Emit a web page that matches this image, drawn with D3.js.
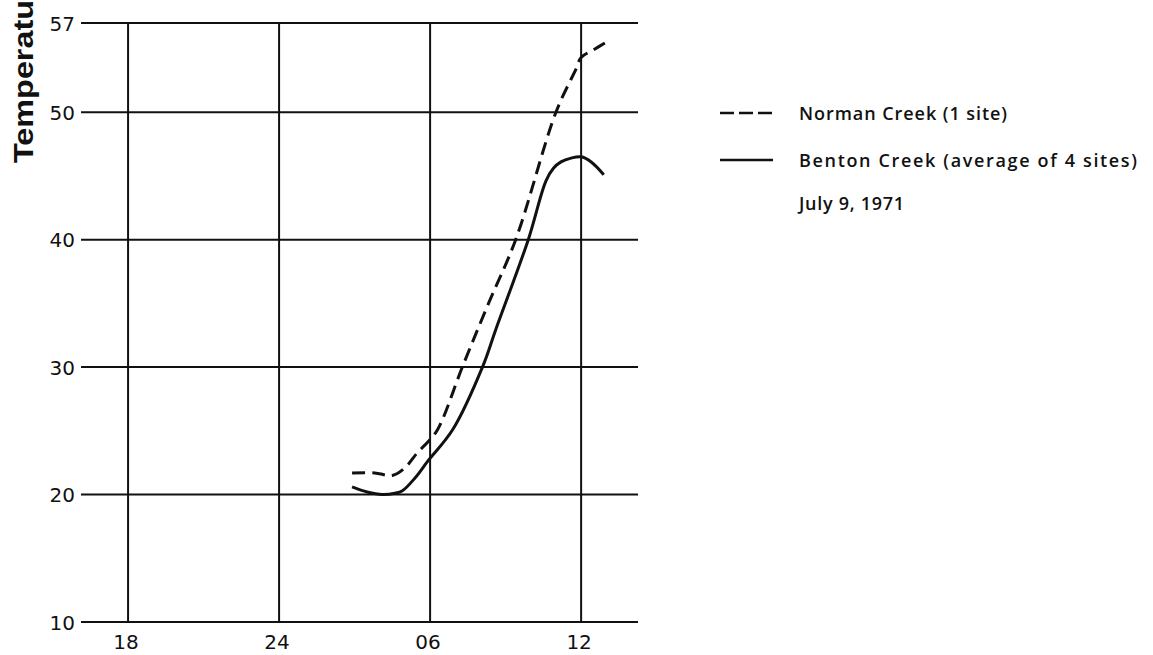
<!DOCTYPE html>
<html>
<head>
<meta charset="utf-8">
<script src="https://d3js.org/d3.v7.min.js"></script>
<style>
  body { margin: 0; background: #fff; }
  svg { display: block; }
  text { fill: #111; }
</style>
</head>
<body>
<div id="my_dataviz"></div>
<script>
// hours counted from 18:00 the evening before (24 = midnight, 30 = 06, 36 = noon)
var normanHours = [26.9, 27.8, 28.5, 29.0, 29.5, 29.9, 30.3, 31.3, 32.3, 33.4, 35.0, 35.8, 36.0, 36.5, 37.0]
var normanTemp  = [21.7, 21.7, 21.5, 22.1, 23.3, 24.1, 25.1, 30.1, 34.9, 40.0, 50.0, 53.4, 54.3, 54.9, 55.5]

var bentonHours = [26.9, 27.5, 28.1, 28.6, 28.9, 29.4, 29.9, 30.9, 32.1, 32.6, 33.9, 34.6, 34.9, 35.2, 35.6, 36.0, 36.4, 36.9]
var bentonTemp  = [20.6, 20.2, 20.0, 20.1, 20.3, 21.3, 22.6, 25.1, 30.1, 32.9, 40.0, 44.6, 45.6, 46.1, 46.4, 46.5, 46.1, 45.1]

var xTickValues = [18, 24, 30, 36]
var xTickLabels = ["18", "24", "06", "12"]
var yTickValues = [10, 20, 30, 40, 50, 57]

var legendLabels = ["Norman Creek (1 site)", "Benton Creek (average of 4 sites)"]
var dateLabel = "July 9, 1971"

var width = 1153
    height = 655

var svg = d3.select("#my_dataviz")
  .append("svg")
    .attr("width", width)
    .attr("height", height)

// scales: grid runs from x 81 to 638, y 23 to 622
var x = d3.scaleLinear()
  .domain([16.13, 38.26])
  .range([81, 638])

var y = d3.scaleLinear()
  .domain([10, 57])
  .range([622, 23])

// horizontal grid lines
svg.selectAll("hgrid")
  .data(yTickValues)
  .enter()
  .append("line")
    .attr("x1", x.range()[0])
    .attr("x2", x.range()[1])
    .attr("y1", function(d) { return y(d) })
    .attr("y2", function(d) { return y(d) })
    .attr("stroke", "#111")
    .attr("stroke-width", 2)

// vertical grid lines
svg.selectAll("vgrid")
  .data(xTickValues)
  .enter()
  .append("line")
    .attr("x1", function(d) { return x(d) })
    .attr("x2", function(d) { return x(d) })
    .attr("y1", y(57))
    .attr("y2", y(10))
    .attr("stroke", "#111")
    .attr("stroke-width", 2)

// tick labels
svg.selectAll("ylab")
  .data(yTickValues)
  .enter()
  .append("text")
    .attr("x", 75)
    .attr("y", function(d) { return y(d) + 7.5 })
    .attr("text-anchor", "end")
    .style("font-family", "DejaVu Sans, sans-serif")
    .style("font-size", "20px")
    .text(function(d) { return d })

svg.selectAll("xlab")
  .data(xTickValues)
  .enter()
  .append("text")
    .attr("x", function(d) { return x(d) - 2 })
    .attr("y", 649)
    .attr("text-anchor", "middle")
    .style("font-family", "DejaVu Sans, sans-serif")
    .style("font-size", "20px")
    .text(function(d, i) { return xTickLabels[i] })

// y axis title (cut off at the top in the original)
svg.append("text")
  .attr("transform", "translate(33,163) rotate(-90)")
  .attr("textLength", 163)
  .attr("lengthAdjust", "spacingAndGlyphs")
  .style("font-family", "Liberation Sans, Arial, sans-serif")
  .style("font-weight", "bold")
  .style("font-size", "28px")
  .text("Temperatu")

// the two curves
var line = d3.line()
  .x(function(d) { return x(d[0]) })
  .y(function(d) { return y(d[1]) })
  .curve(d3.curveCatmullRom.alpha(0.5))

svg.append("path")
  .datum(d3.zip(normanHours, normanTemp))
  .attr("d", line)
  .attr("fill", "none")
  .attr("stroke", "#111")
  .attr("stroke-width", 3)
  .attr("stroke-dasharray", "13,7")

svg.append("path")
  .datum(d3.zip(bentonHours, bentonTemp))
  .attr("d", line)
  .attr("fill", "none")
  .attr("stroke", "#111")
  .attr("stroke-width", 3)

// legend
var legendY = [113, 160]
var legendLen = [208, 338]
var legend = svg.selectAll("legend")
  .data(legendLabels)
  .enter()
  .append("g")

legend.append("line")
  .attr("x1", 720)
  .attr("x2", 773)
  .attr("y1", function(d, i) { return legendY[i] })
  .attr("y2", function(d, i) { return legendY[i] })
  .attr("stroke", "#111")
  .attr("stroke-width", 2.5)
  .attr("stroke-dasharray", function(d, i) { return i == 0 ? "14,5" : null })

legend.append("text")
  .attr("x", 799)
  .attr("y", function(d, i) { return legendY[i] + 7 })
  .attr("textLength", function(d, i) { return legendLen[i] })
  .attr("lengthAdjust", "spacing")
  .style("font-family", "Open Sans, sans-serif")
  .style("font-weight", 600)
  .style("font-size", "18px")
  .text(function(d) { return d })

svg.append("text")
  .attr("x", 799)
  .attr("y", 210)
  .attr("textLength", 105)
  .attr("lengthAdjust", "spacing")
  .style("font-family", "Open Sans, sans-serif")
  .style("font-weight", 600)
  .style("font-size", "18px")
  .text(dateLabel)
</script>
</body>
</html>
